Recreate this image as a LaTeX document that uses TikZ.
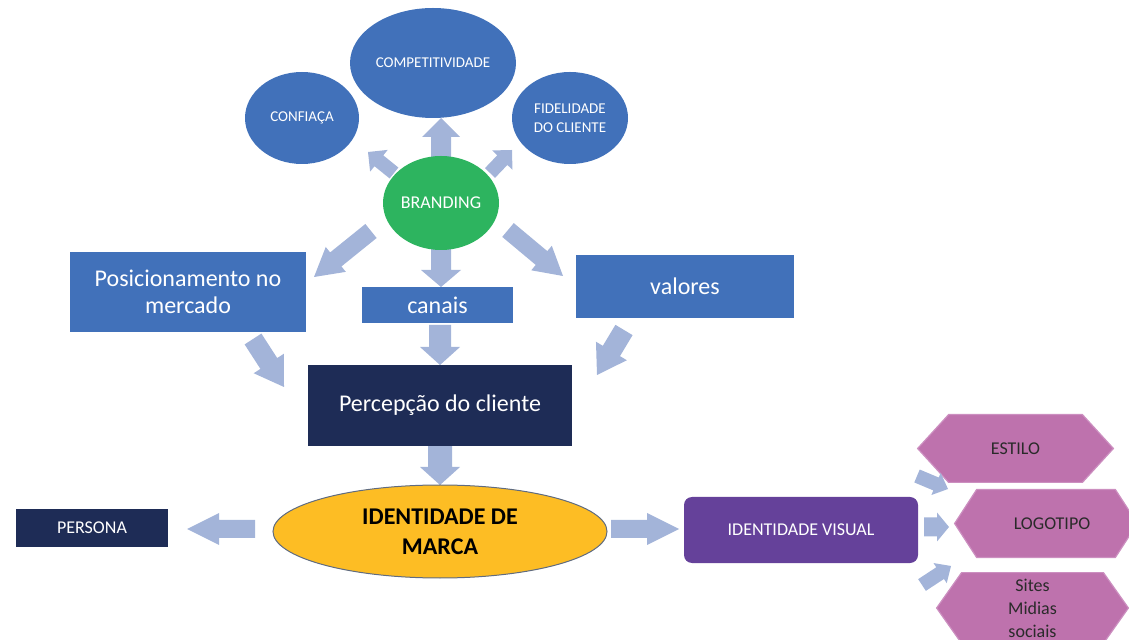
\documentclass[tikz,border=0pt]{standalone}
\usepackage{fontspec}
\setmainfont{Carlito}
\usetikzlibrary{calc,shapes.geometric,backgrounds}

\definecolor{bluefill}{HTML}{4171BA}
\definecolor{greenfill}{HTML}{2DB45F}
\definecolor{navyfill}{HTML}{1E2C56}
\definecolor{goldfill}{HTML}{FDBD24}
\definecolor{goldedge}{HTML}{5F6B80}
\definecolor{violetfill}{HTML}{65419A}
\definecolor{pinkfill}{HTML}{BE72AD}
\definecolor{pinkedge}{HTML}{CC8FC0}
\definecolor{arrowfill}{HTML}{A3B4D9}
\definecolor{darktext}{HTML}{2A2A2A}

% block arrow: from, to, shaft half-width, head half-width, head length
\newcommand\fatarrow[5]{%
  \coordinate (fahead) at ($(#2)!#5!(#1)$);
  \fill[arrowfill]
    ($(#1)!#3!90:(#2)$) -- ($(fahead)!#3!90:(#2)$) -- ($(fahead)!#4!90:(#2)$)
    -- (#2)
    -- ($(fahead)!#4!-90:(#2)$) -- ($(fahead)!#3!-90:(#2)$) -- ($(#1)!#3!-90:(#2)$)
    -- cycle;
}

% hexagon behind a body node: node name, slant in px, fill
\newcommand\hexback[2]{%
  \fill[pinkfill, draw=pinkedge, line width=0.6pt]
    (#1.north west) -- (#1.north east) -- ($(#1.east)+(#2,0)$)
    -- (#1.south east) -- (#1.south west) -- ($(#1.west)-(#2,0)$) -- cycle;
}

\tikzset{
  blueell/.style={ellipse, fill=bluefill, text=white, inner sep=0pt, align=center,
    font=\fontsize{7.5}{9.5}\selectfont},
  bluebox/.style={rectangle, fill=bluefill, text=white, inner sep=0pt, align=center,
    font=\fontsize{12}{13.5}\selectfont},
  navybox/.style={rectangle, fill=navyfill, text=white, inner sep=0pt, align=center},
  hexbody/.style={rectangle, inner sep=0pt, align=center, text=darktext,
    font=\fontsize{9}{11.5}\selectfont},
}

\begin{document}
\begin{tikzpicture}[x=0.5pt, y=-0.5pt]
\useasboundingbox (0,0) rectangle (1129,640);
\clip (0,0) rectangle (1129,640);

% top cluster
\node[blueell, minimum width=83pt, minimum height=55pt] (comp) at (433,63) {COMPETITIVIDADE};
\node[blueell, minimum width=57pt, minimum height=46pt] (conf) at (302,118) {CONFIAÇA};
\node[blueell, minimum width=58pt, minimum height=46pt] (fid) at (570,118) {FIDELIDADE\\DO CLIENTE};
\node[ellipse, fill=greenfill, text=white, inner sep=0pt, minimum width=58pt, minimum height=47pt,
      font=\fontsize{9}{11}\selectfont] (brand) at (441,203) {BRANDING};

% middle row
\node[bluebox, minimum width=118pt, minimum height=40pt] (pos) at (188,292) {Posicionamento no\\mercado};
\node[bluebox, minimum width=75.5pt, minimum height=18pt] (canais) at (437.5,305) {canais};
\node[bluebox, minimum width=109pt, minimum height=31.5pt] (val) at (685,286.5) {valores};
\node[navybox, minimum width=132pt, minimum height=40.5pt, font=\fontsize{12}{13.5}\selectfont]
      (perc) at (440,405.5) {Percepção do cliente};

% bottom row
\node[ellipse, fill=goldfill, draw=goldedge, line width=0.5pt, inner sep=0pt,
      minimum width=167pt, minimum height=46.5pt, align=center,
      font=\bfseries\fontsize{12}{15}\selectfont] (idm) at (440,531.5) {IDENTIDADE DE\\MARCA};
\node[navybox, minimum width=76pt, minimum height=19pt, font=\fontsize{9}{11}\selectfont]
      (persona) at (92,528) {PERSONA};
\node[rectangle, rounded corners=4pt, fill=violetfill, text=white, inner sep=0pt,
      minimum width=117pt, minimum height=33pt, font=\fontsize{9}{11}\selectfont]
      (idv) at (801,530) {IDENTIDADE VISUAL};

% hexagon labels
\node[hexbody, minimum width=66.5pt, minimum height=33.5pt] (estilo) at (1015.5,448.5) {ESTILO};
\node[hexbody, minimum width=69pt, minimum height=33.5pt] (logo) at (1046,523.5) {\hspace*{6pt}LOGOTIPO};
\node[hexbody, minimum width=70.5pt, minimum height=35pt] (sites) at (1032.5,608) {Sites\\Midias\\sociais};

% endpoints of the block arrows
\coordinate (bTop) at (441,157);
\coordinate (cBot) at (441,118);
\coordinate (bUL) at (394,173);
\coordinate (cfTip) at (368,152);
\coordinate (bUR) at (490,173);
\coordinate (fTip) at (512,150);
\coordinate (bDL) at (371,231);
\coordinate (pTip) at (314,277);
\coordinate (bDR) at (508,230);
\coordinate (vTip) at (563,276);
\coordinate (bBot) at (441,249);
\coordinate (caTop) at (441,287);
\coordinate (caBot) at (440,325);
\coordinate (peTop) at (440,365);
\coordinate (poTail) at (253,339);
\coordinate (peL) at (284,387);
\coordinate (vaTail) at (624,330);
\coordinate (peR) at (597,375);
\coordinate (peBot) at (440,446);
\coordinate (imTop) at (440,485);
\coordinate (imL) at (255,529);
\coordinate (psTip) at (187,529);
\coordinate (imR) at (611,529);
\coordinate (ivTip) at (679,529);
\coordinate (ivA) at (917,476);
\coordinate (esTip) at (948,489);
\coordinate (ivB) at (924,527);
\coordinate (loTip) at (949,527);
\coordinate (ivC) at (922,585);
\coordinate (siTip) at (951,566);

\begin{scope}[on background layer]
  \hexback{estilo}{31}
  \hexback{logo}{22}
  \hexback{sites}{25}

  \fatarrow{bTop}{cBot}{5pt}{9.5pt}{9.5pt}
  \fatarrow{bUL}{cfTip}{3.5pt}{7pt}{7pt}
  \fatarrow{bUR}{fTip}{3.5pt}{7pt}{7pt}
  \fatarrow{bDL}{pTip}{4.5pt}{8pt}{14pt}
  \fatarrow{bDR}{vTip}{4.5pt}{8pt}{14pt}
  \fatarrow{bBot}{caTop}{5pt}{10pt}{8.5pt}
  \fatarrow{caBot}{peTop}{5.5pt}{10pt}{9pt}
  \fatarrow{poTail}{peL}{5pt}{9pt}{14pt}
  \fatarrow{vaTail}{peR}{5pt}{9pt}{14pt}
  \fatarrow{peBot}{imTop}{6pt}{10pt}{9pt}
  \fatarrow{imL}{psTip}{4.5pt}{8pt}{16pt}
  \fatarrow{imR}{ivTip}{4.5pt}{8pt}{16pt}
  \fatarrow{ivA}{esTip}{3.5pt}{6pt}{6.5pt}
  \fatarrow{ivB}{loTip}{4.75pt}{7.25pt}{6pt}
  \fatarrow{ivC}{siTip}{3.5pt}{6pt}{6.5pt}
\end{scope}
\end{tikzpicture}
\end{document}
